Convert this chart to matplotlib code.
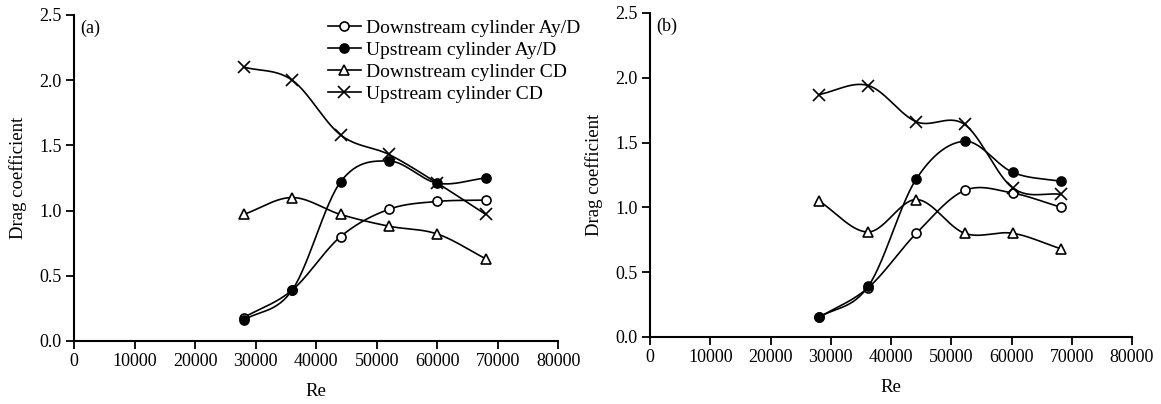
import matplotlib.pyplot as plt
import numpy as np

plt.rcParams['font.family'] = ['Liberation Serif', 'DejaVu Serif']
plt.rcParams['font.size'] = 13

# Reynolds numbers
re_a = [28000, 36000, 44000, 52000, 60000, 68000]
re_b = [28000, 36200, 44200, 52200, 60200, 68200]

# panel (a)
down_ay_a = [0.18, 0.39, 0.80, 1.01, 1.07, 1.08]
up_ay_a = [0.16, 0.39, 1.22, 1.38, 1.21, 1.25]
down_cd_a = [0.97, 1.10, 0.97, 0.88, 0.82, 0.63]
up_cd_a = [2.10, 2.00, 1.58, 1.43, 1.21, 0.97]

# panel (b)
down_ay_b = [0.15, 0.38, 0.80, 1.13, 1.11, 1.00]
up_ay_b = [0.15, 0.39, 1.22, 1.51, 1.27, 1.20]
down_cd_b = [1.05, 0.81, 1.06, 0.80, 0.80, 0.68]
up_cd_b = [1.87, 1.94, 1.66, 1.64, 1.15, 1.10]

labels = ['Downstream cylinder Ay/D', 'Upstream cylinder Ay/D',
          'Downstream cylinder CD', 'Upstream cylinder CD']
styles = [dict(marker='o', mfc='white', ms=6.5), dict(marker='o', mfc='black', ms=6.5),
          dict(marker='^', mfc='white', ms=6.5), dict(marker='x', mfc='black', ms=8)]


def smooth(x, y, n=30):
    # catmull-rom style smoothing of the connecting line (like spreadsheet "smoothed line")
    x = np.asarray(x, float)
    y = np.asarray(y, float)
    px = np.concatenate([[2 * x[0] - x[1]], x, [2 * x[-1] - x[-2]]])
    py = np.concatenate([[2 * y[0] - y[1]], y, [2 * y[-1] - y[-2]]])
    xs, ys = [], []
    t = np.linspace(0, 1, n)
    for i in range(1, len(px) - 2):
        for p, out in ((px, xs), (py, ys)):
            p0, p1, p2, p3 = p[i - 1], p[i], p[i + 1], p[i + 2]
            out.append(0.5 * (2 * p1 + (-p0 + p2) * t
                              + (2 * p0 - 5 * p1 + 4 * p2 - p3) * t ** 2
                              + (-p0 + 3 * p1 - 3 * p2 + p3) * t ** 3))
    return np.concatenate(xs), np.concatenate(ys)


fig = plt.figure(figsize=(11.61, 4.04), dpi=100)
ax_a = fig.add_axes([0.064, 0.156, 0.417, 0.807])
ax_b = fig.add_axes([0.560, 0.166, 0.415, 0.802])

panels = [(ax_a, re_a, [down_ay_a, up_ay_a, down_cd_a, up_cd_a], '(a)'),
          (ax_b, re_b, [down_ay_b, up_ay_b, down_cd_b, up_cd_b], '(b)')]

for ax, re, series, tag in panels:
    for ys, lab, st in zip(series, labels, styles):
        sx, sy = smooth(re, ys)
        ax.plot(sx, sy, color='black', lw=1.2)
        ax.plot(re, ys, linestyle='none', color='black', mec='black', mew=1.2, **st)
    ax.set_xlim(0, 80000)
    ax.set_ylim(0, 2.5)
    ax.set_xticks(np.arange(0, 80001, 10000))
    ax.set_yticks(np.arange(0, 2.51, 0.5))
    ax.yaxis.set_major_formatter(plt.FormatStrFormatter('%.1f'))
    ax.spines['top'].set_visible(False)
    ax.spines['right'].set_visible(False)
    ax.spines['left'].set_linewidth(1.5)
    ax.spines['bottom'].set_linewidth(1.5)
    ax.tick_params(direction='out', length=5.5, width=1.3, labelsize=13)
    ax.set_xlabel('Re', fontsize=13.5, labelpad=9)
    ax.set_ylabel('Drag coefficient', fontsize=13.5, labelpad=9)
    ax.text(0.012, 0.985, tag, transform=ax.transAxes, ha='left', va='top', fontsize=13)

handles = [plt.Line2D([], [], color='black', lw=1.2, mec='black', mew=1.2, **st)
           for st in styles]
ax_a.legend(handles, labels, loc='upper left', bbox_to_anchor=(0.487, 1.04), frameon=False,
            fontsize=14, handlelength=1.7, handletextpad=0.3, labelspacing=0.23)

fig.savefig('out.png', dpi=100)
